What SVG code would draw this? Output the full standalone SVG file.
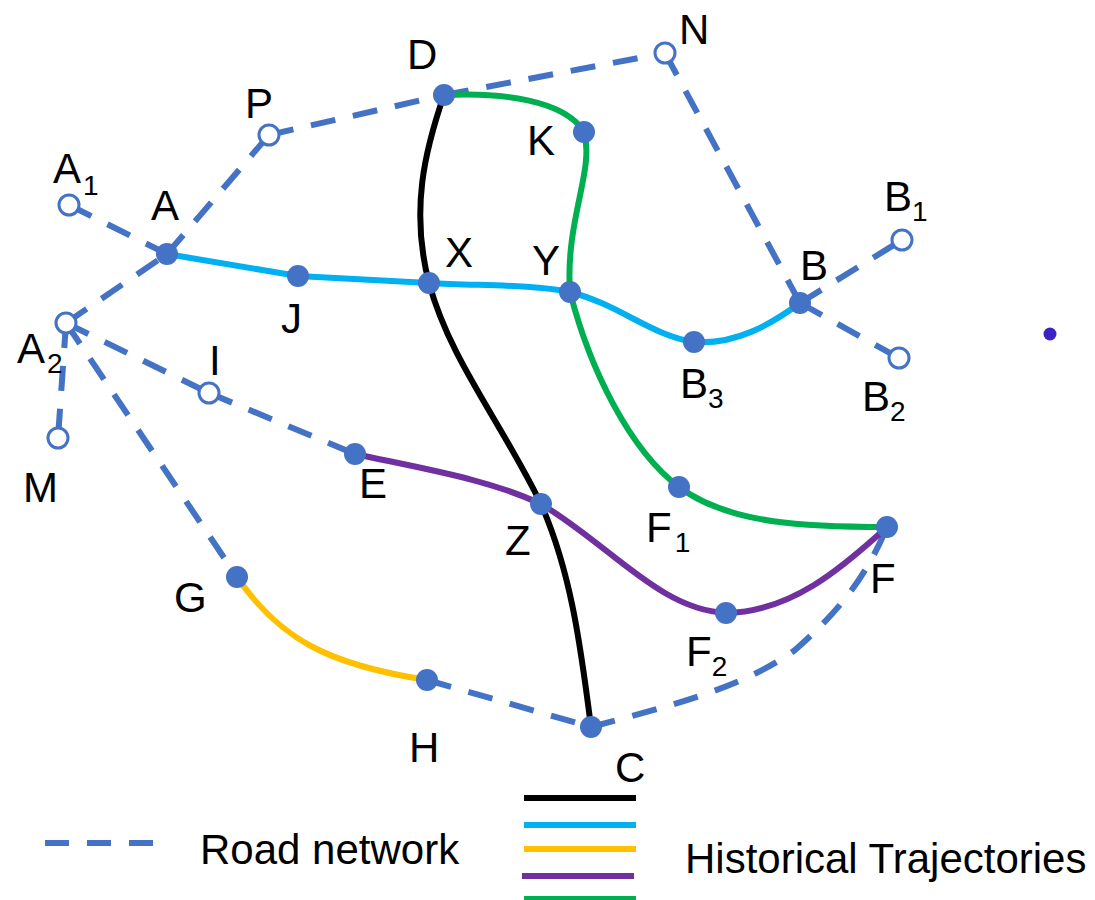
<svg xmlns="http://www.w3.org/2000/svg" width="1095" height="900" viewBox="0 0 1095 900">
<style>
.d{fill:none;stroke:#4472c4;stroke-width:6;stroke-dasharray:25 18}
.l{stroke-dasharray:24 18}
.t{fill:none;stroke-width:6}
.f{fill:#4472c4}
.o{fill:#fff;stroke:#4472c4;stroke-width:3}
text{font-family:"Liberation Sans",Arial,sans-serif;font-size:42px;fill:#000}
.s{font-size:28px}
</style>
<rect width="1095" height="900" fill="#fff"/>
<g id="connectors">
<path class="d" d="M69 205L167 254"/>
<path class="d" d="M66 323L167 254"/>
<path class="d" d="M167 254L269 135"/>
<path class="d" d="M269 135L444 95"/>
<path class="d" d="M444 95L665 53"/>
<path class="d" d="M665 53L800 303"/>
<path class="d" d="M66 323L58 438"/>
<path class="d" d="M66 323L209 393"/>
<path class="d" d="M209 393L355 454"/>
<path class="d" d="M66 323L237 577"/>
<path class="d" d="M427 680L591 727"/>
<path class="d" d="M591 727C660 708 740 690 795 650C835 615 865 580 887 527"/>
<path class="d" d="M800 303L902 240"/>
<path class="d" d="M800 303L899 358"/>
<path class="t" stroke="#000" d="M444 95C425 150 410 210 429 283C450 360 500 420 541 504C570 570 580 640 591 727"/>
<path class="t" stroke="#00b0f0" d="M167 254L298 276L429 283C480 286 530 284 570 292C620 305 650 335 694 342C735 345 770 325 800 303"/>
<path class="t" stroke="#ffc000" d="M237 577C280 640 330 665 427 680"/>
<path class="t" stroke="#7030a0" d="M355 454C430 470 490 480 541 504C610 545 660 610 726 613C790 612 840 570 887 527"/>
<path class="t" stroke="#00b050" d="M444 95C500 92 565 100 584 132C595 170 565 220 570 292C590 370 630 450 679 487C730 525 810 527 887 527"/>
<path class="t" stroke="#000" d="M524 798H636"/>
<path class="t" stroke="#00b0f0" d="M524 825H636"/>
<path class="t" stroke="#ffc000" d="M524 849H636"/>
<path class="t" stroke="#7030a0" d="M522 876H634"/>
<path class="t" stroke="#00b050" d="M524 899H636"/>
<path class="d l" d="M45 843H154"/>
</g>
<g id="nodes">
<g id="A1"><circle class="o" cx="69" cy="205" r="10"/><text x="53" y="183">A<tspan class="s" dx="2" dy="12">1</tspan></text></g>
<g id="A"><circle class="f" cx="167" cy="254" r="11"/><text x="151" y="220">A</text></g>
<g id="A2"><circle class="o" cx="66" cy="323" r="10"/><text x="17" y="363">A<tspan class="s" dx="2" dy="10">2</tspan></text></g>
<g id="M"><circle class="o" cx="58" cy="438" r="10"/><text x="23" y="502">M</text></g>
<g id="P"><circle class="o" cx="269" cy="135" r="10"/><text x="245" y="118">P</text></g>
<g id="D"><circle class="f" cx="444" cy="95" r="11"/><text x="407" y="69">D</text></g>
<g id="N"><circle class="o" cx="665" cy="53" r="10"/><text x="679" y="44">N</text></g>
<g id="K"><circle class="f" cx="584" cy="132" r="11"/><text x="527" y="155">K</text></g>
<g id="J"><circle class="f" cx="298" cy="276" r="11"/><text x="281" y="333">J</text></g>
<g id="X"><circle class="f" cx="429" cy="283" r="11"/><text x="445" y="267">X</text></g>
<g id="Y"><circle class="f" cx="570" cy="292" r="11"/><text x="532" y="275">Y</text></g>
<g id="B3"><circle class="f" cx="694" cy="342" r="11"/><text x="680" y="398">B<tspan class="s" dy="10">3</tspan></text></g>
<g id="B"><circle class="f" cx="800" cy="303" r="11"/><text x="800" y="280">B</text></g>
<g id="B1"><circle class="o" cx="902" cy="240" r="10"/><text x="884" y="211">B<tspan class="s" dy="10">1</tspan></text></g>
<g id="B2"><circle class="o" cx="899" cy="358" r="10"/><text x="862" y="411">B<tspan class="s" dy="10">2</tspan></text></g>
<g id="I"><circle class="o" cx="209" cy="393" r="10"/><text x="209" y="375">I</text></g>
<g id="E"><circle class="f" cx="355" cy="454" r="11"/><text x="359" y="498">E</text></g>
<g id="Z"><circle class="f" cx="541" cy="504" r="11"/><text x="505" y="555">Z</text></g>
<g id="F1"><circle class="f" cx="679" cy="487" r="11"/><text x="646" y="542">F<tspan class="s" dx="3" dy="10">1</tspan></text></g>
<g id="F"><circle class="f" cx="887" cy="527" r="11"/><text x="870" y="593">F</text></g>
<g id="F2"><circle class="f" cx="726" cy="613" r="11"/><text x="686" y="666">F<tspan class="s" dy="10">2</tspan></text></g>
<g id="G"><circle class="f" cx="237" cy="577" r="11"/><text x="174" y="612">G</text></g>
<g id="H"><circle class="f" cx="427" cy="680" r="11"/><text x="409" y="762">H</text></g>
<g id="C"><circle class="f" cx="591" cy="727" r="11"/><text x="615" y="782">C</text></g>
<circle cx="1050" cy="334" r="6.500" fill="#3a22c4"/>
<text x="200" y="864">Road network</text>
<text x="685" y="873">Historical Trajectories</text>
</g>
</svg>
